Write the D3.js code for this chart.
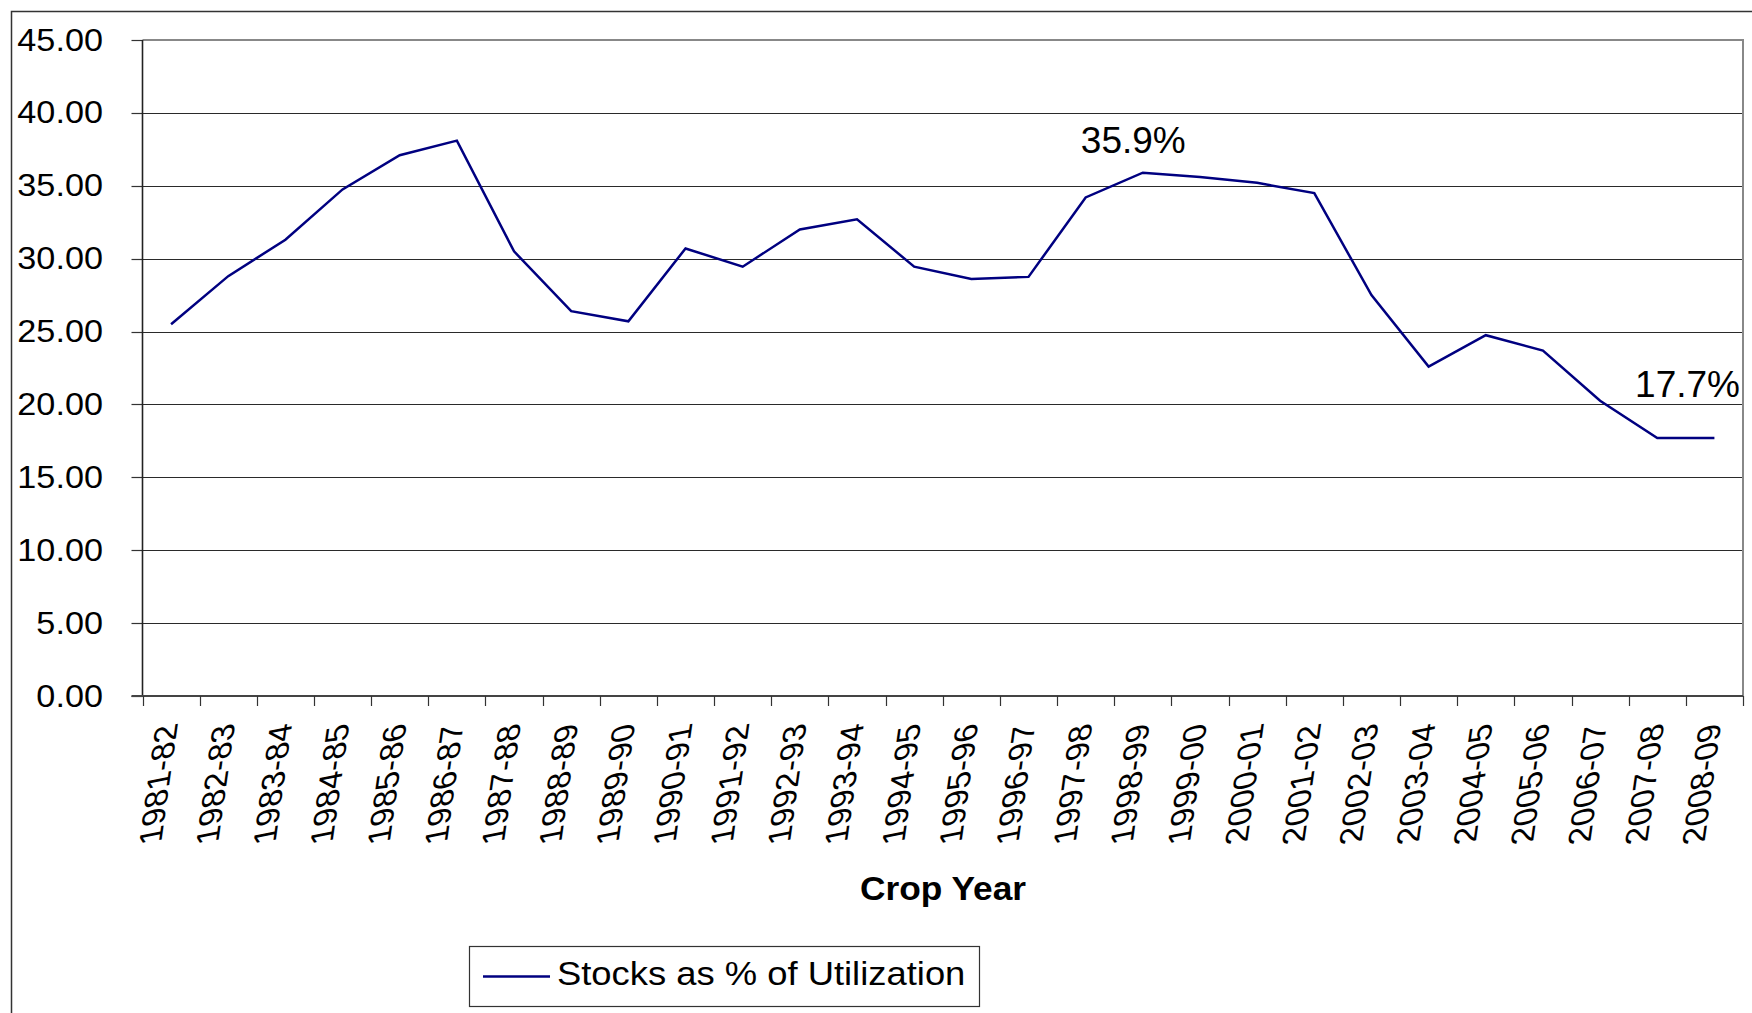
<!DOCTYPE html>
<html>
<head>
<meta charset="utf-8">
<script src="https://cdn.jsdelivr.net/npm/d3@7"></script>
<style>
  body { margin: 0; background: #fff; }
  text { font-family: "Liberation Sans", Arial, sans-serif; fill: #000; }
</style>
</head>
<body>
<svg id="chart" width="1752" height="1013"></svg>
<script>
// crop years on the x axis
var years = ["1981-82", "1982-83", "1983-84", "1984-85", "1985-86", "1986-87", "1987-88",
  "1988-89", "1989-90", "1990-91", "1991-92", "1992-93", "1993-94", "1994-95", "1995-96",
  "1996-97", "1997-98", "1998-99", "1999-00", "2000-01", "2001-02", "2002-03", "2003-04",
  "2004-05", "2005-06", "2006-07", "2007-08", "2008-09"];

// stocks as % of utilization
var stocks = [25.5, 28.8, 31.3, 34.75, 37.1, 38.1, 30.5, 26.4, 25.7, 30.7, 29.45, 32.0,
  32.7, 29.45, 28.6, 28.75, 34.2, 35.9, 35.6, 35.2, 34.5, 27.5, 22.6, 24.75, 23.7, 20.25,
  17.7, 17.7];

var yTicks = [0, 5, 10, 15, 20, 25, 30, 35, 40, 45];
var seriesName = "Stocks as % of Utilization";
var xTitle = "Crop Year";
var callouts = [{ year: "1998-99", text: "35.9%" }, { year: "2008-09", text: "17.7%" }];

var svg = d3.select('#chart');
// note: "top" is taken by window.top, so plot bounds get their own names
var plotL = 142.5, plotR = 1743, plotT = 40, plotB = 696;
var stretch = 1.07; // text in the picture is a bit wider than plain Arial

var x = d3.scaleBand().domain(years).range([plotL, plotR]).padding(0);
var y = d3.scaleLinear().domain([0, 45]).range([plotB, plotT]);

// outer chart frame (runs off the right and bottom edges)
svg.append('rect').attr('x', 11.5).attr('y', 11.5).attr('width', 1800).attr('height', 1100)
  .attr('fill', '#fff').attr('stroke', '#333').attr('stroke-width', 1.5);

// gridlines
svg.append('g').selectAll('line').data(yTicks.filter(function(d) { return d > 0 && d < 45; }))
  .join('line')
  .attr('x1', plotL).attr('x2', plotR)
  .attr('y1', function(d) { return Math.round(y(d)) + 0.5; })
  .attr('y2', function(d) { return Math.round(y(d)) + 0.5; })
  .attr('stroke', '#2a2a2a').attr('stroke-width', 1);

// plot area border top / right
svg.append('path')
  .attr('d', 'M' + plotL + ',' + y(45) + 'H' + plotR + 'V' + plotB)
  .attr('fill', 'none').attr('stroke', '#888').attr('stroke-width', 2);

// y ticks + labels
var yAxis = svg.append('g');
yAxis.selectAll('line').data(yTicks).join('line')
  .attr('x1', plotL - 11).attr('x2', plotL)
  .attr('y1', function(d) { return Math.round(y(d)) + 0.5; })
  .attr('y2', function(d) { return Math.round(y(d)) + 0.5; })
  .attr('stroke', '#333').attr('stroke-width', 1.2);
yAxis.selectAll('text').data(yTicks).join('text')
  .attr('transform', function(d) { return 'translate(103,' + (y(d) + 10.5) + ') scale(' + stretch + ',1)'; })
  .attr('text-anchor', 'end').attr('font-size', 32)
  .text(d3.format('.2f'));

// axis lines
svg.append('line').attr('x1', plotL).attr('x2', plotL).attr('y1', plotT).attr('y2', plotB)
  .attr('stroke', '#222').attr('stroke-width', 1.6);
svg.append('line').attr('x1', plotL - 11).attr('x2', plotR).attr('y1', plotB).attr('y2', plotB)
  .attr('stroke', '#444').attr('stroke-width', 2);

// x ticks at category boundaries
var bounds = years.map(function(d) { return x(d); }).concat([plotR]);
svg.append('g').selectAll('line').data(bounds).join('line')
  .attr('x1', function(d) { return Math.round(d) + 0.5; })
  .attr('x2', function(d) { return Math.round(d) + 0.5; })
  .attr('y1', plotB).attr('y2', plotB + 10)
  .attr('stroke', '#333').attr('stroke-width', 1.2);

// slanted vertical year labels (rotated and a little sheared, like the original)
svg.append('g').selectAll('text').data(years).join('text')
  .attr('transform', function(d) {
    return 'translate(' + (x(d) + x.bandwidth() / 2 + 7) + ',722) matrix(0.14,-0.99,0.99,-0.2,0,0)';
  })
  .attr('text-anchor', 'end').attr('font-size', 33)
  .text(function(d) { return d; });

// x axis title
svg.append('text')
  .attr('transform', 'translate(943,900) scale(' + stretch + ',1)')
  .attr('text-anchor', 'middle').attr('font-size', 33).attr('font-weight', 'bold')
  .text(xTitle);

// the series line
var line = d3.line()
  .x(function(d, i) { return x(years[i]) + x.bandwidth() / 2; })
  .y(function(d) { return y(d); });
svg.append('path').datum(stocks)
  .attr('d', line)
  .attr('fill', 'none').attr('stroke', '#000080').attr('stroke-width', 2.5)
  .attr('stroke-linejoin', 'miter');

// value callouts
var c0 = callouts[0], i0 = years.indexOf(c0.year);
svg.append('text')
  .attr('x', x(c0.year) + x.bandwidth() / 2 - 9.5).attr('y', y(stocks[i0]) - 20)
  .attr('text-anchor', 'middle').attr('font-size', 37)
  .text(c0.text);
var c1 = callouts[1], i1 = years.indexOf(c1.year);
svg.append('text')
  .attr('x', plotR - 3).attr('y', y(stocks[i1]) - 41)
  .attr('text-anchor', 'end').attr('font-size', 37)
  .text(c1.text);

// legend
var legend = svg.append('g');
legend.append('rect').attr('x', 469.5).attr('y', 946.5).attr('width', 510).attr('height', 60)
  .attr('fill', '#fff').attr('stroke', '#333').attr('stroke-width', 1.2);
legend.append('line').attr('x1', 483).attr('x2', 550).attr('y1', 976.5).attr('y2', 976.5)
  .attr('stroke', '#000080').attr('stroke-width', 2.5);
legend.append('text')
  .attr('transform', 'translate(557,984.5) scale(' + stretch + ',1)')
  .attr('font-size', 34)
  .text(seriesName);
</script>
</body>
</html>
